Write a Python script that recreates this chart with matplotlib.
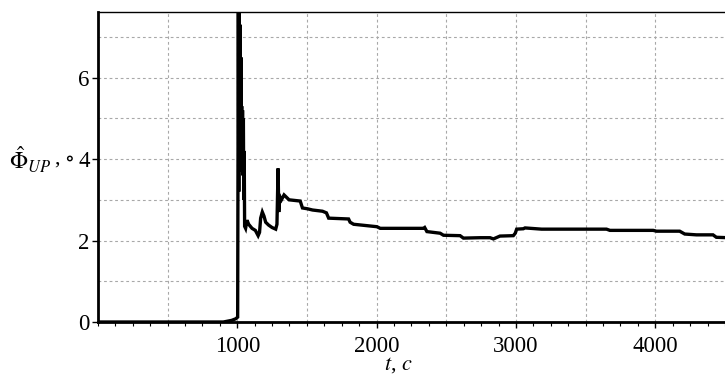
import matplotlib
matplotlib.use("Agg")
import matplotlib.pyplot as plt
from matplotlib.ticker import MultipleLocator, FixedLocator

plt.rcParams["font.family"] = ["Liberation Serif", "DejaVu Serif"]
plt.rcParams["mathtext.fontset"] = "stix"

# time, s  and estimated angle, deg
t = [0, 900, 960, 990, 1003, 1008, 1011, 1014, 1017, 1020, 1023, 1026, 1029,
     1032, 1035, 1038, 1041, 1044, 1047, 1050, 1053, 1060, 1070, 1082, 1106,
     1130, 1150, 1160, 1168, 1180, 1192, 1204, 1225, 1250, 1276, 1285, 1293,
     1298, 1302, 1310, 1317, 1336, 1372, 1452, 1468, 1504, 1540, 1612, 1640,
     1656, 1799, 1810, 1835, 2002, 2026, 2337, 2345, 2361, 2456, 2480, 2599,
     2623, 2743, 2814, 2838, 2885, 2981, 2995, 3005, 3053, 3065, 3184, 3650,
     3674, 3985, 4008, 4175, 4211, 4295, 4414, 4438, 4520]
phi = [0, 0, 0.04, 0.08, 0.12, 7.8, 3.2, 7.7, 4.0, 7.3, 4.4, 6.5, 4.6,
       5.3, 3.7, 5.2, 3.6, 5.0, 3.0, 4.2, 2.35, 2.3, 2.5, 2.4, 2.3,
       2.25, 2.12, 2.2, 2.55, 2.7, 2.6, 2.45, 2.38, 2.32, 2.28, 2.4, 3.77,
       2.7, 2.95, 3.05, 3.0, 3.12, 3.0, 2.97, 2.8, 2.78, 2.75, 2.72, 2.68,
       2.55, 2.53, 2.45, 2.4, 2.34, 2.3, 2.3, 2.32, 2.22, 2.18, 2.13, 2.12,
       2.06, 2.07, 2.07, 2.04, 2.11, 2.12, 2.18, 2.28, 2.29, 2.31, 2.28, 2.28,
       2.25, 2.25, 2.23, 2.23, 2.16, 2.14, 2.14, 2.08, 2.07]

x_major = [1000, 2000, 3000, 4000]
y_major = [0, 2, 4, 6]

fig = plt.figure(figsize=(7.25, 3.76), dpi=100)
ax = fig.add_axes([0.135, 0.1436, 0.865, 0.8232])

ax.plot(t, phi, color="black", linewidth=2.4, solid_joinstyle="miter")

ax.set_xlim(0, 4500)
ax.set_ylim(0, 7.6)

ax.xaxis.set_major_locator(FixedLocator(x_major))
ax.xaxis.set_minor_locator(MultipleLocator(125))
ax.yaxis.set_major_locator(FixedLocator(y_major))

ax.tick_params(axis="both", which="major", labelsize=16.5, direction="out",
               length=4, width=1, colors="black")
ax.tick_params(axis="x", which="minor", direction="out", length=3, width=0.8)
ax.tick_params(axis="x", pad=6)
ax.tick_params(axis="y", pad=2)

# grid every 500 on x, every 1 on y
grid_style = dict(color="#a8a8a8", linestyle=(0, (2.5, 2.5)), linewidth=0.8, zorder=0)
for xv in range(500, 4500, 500):
    ax.axvline(xv, **grid_style)
for yv in range(0, 8):
    ax.axhline(yv, **grid_style)

ax.spines["right"].set_visible(False)
ax.spines["left"].set_linewidth(2)
ax.spines["bottom"].set_linewidth(2)
ax.spines["top"].set_linewidth(1)

fig.text(0.012, 1 - 160 / 376, r"$\hat{\Phi}_{\mathit{UP}}$", fontsize=17,
         ha="left", va="center")
fig.text(54 / 725, 1 - 160 / 376, r", $\circ$", fontsize=16,
         ha="left", va="center")
fig.text(398 / 725, 1 - 365 / 376, r"$t$, $c$", fontsize=16, ha="center", va="center")

fig.savefig("out.png", dpi=100)
